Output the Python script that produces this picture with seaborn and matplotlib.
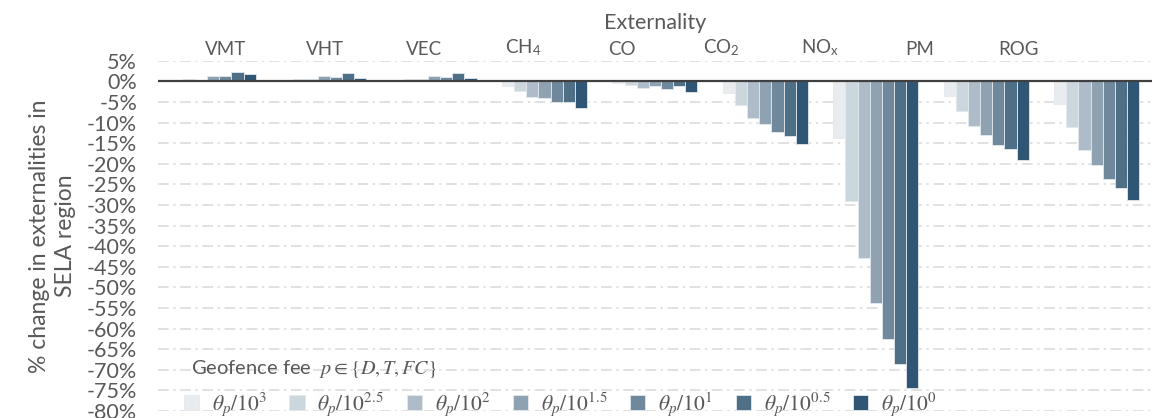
import numpy as np
import pandas as pd
import matplotlib
matplotlib.use("Agg")
import matplotlib.pyplot as plt
import seaborn as sns

# Externalities (x categories) and geofence fee levels (hue)
externalities = ["VMT", "VHT", "VEC", "CH$_\\mathregular{4}$", "CO", "CO$_\\mathregular{2}$",
                 "NO$_\\mathregular{x}$", "PM", "ROG"]
fee_levels = ["$\\theta_p/10^3$", "$\\theta_p/10^{2.5}$", "$\\theta_p/10^2$",
              "$\\theta_p/10^{1.5}$", "$\\theta_p/10^1$", "$\\theta_p/10^{0.5}$",
              "$\\theta_p/10^0$"]

# % change per fee level, one value per externality
fee_1e3 = [0.0, 0.0, 0.0, -1.2, -0.3, -2.8, -13.8, -3.5, -5.4]
fee_1e2_5 = [0.5, 0.65, 0.65, -2.35, -0.8, -5.75, -29.1, -7.1, -11.1]
fee_1e2 = [0.25, 0.5, 0.45, -3.7, -1.5, -8.8, -42.8, -10.8, -16.6]
fee_1e1_5 = [1.2, 1.4, 1.3, -4.05, -1.2, -10.4, -53.8, -13.1, -20.3]
fee_1e1 = [1.4, 1.15, 1.15, -5.1, -1.8, -12.4, -62.5, -15.5, -23.8]
fee_1e0_5 = [2.2, 2.0, 1.95, -5.0, -1.2, -13.2, -68.7, -16.5, -25.8]
fee_1e0 = [1.9, 0.9, 0.75, -6.5, -2.7, -15.3, -74.4, -19.0, -28.9]

series = [fee_1e3, fee_1e2_5, fee_1e2, fee_1e1_5, fee_1e1, fee_1e0_5, fee_1e0]
y_ticks = list(range(5, -81, -5))

palette = ["#E8ECEF", "#CCD6DD", "#ADBCC8", "#8EA2B2", "#6F889C", "#4F6F87", "#305675"]
text_grey = "#595959"

df = pd.DataFrame({
    "externality": np.tile(externalities, len(fee_levels)),
    "fee": np.repeat(fee_levels, len(externalities)),
    "change": np.concatenate(series),
})

sns.set_theme(style="white")
plt.rcParams["font.family"] = ["Lato", "DejaVu Sans"]
plt.rcParams["mathtext.fontset"] = "stix"

fig = plt.figure(figsize=(11.53, 4.18), dpi=100)
ax = fig.add_axes([0.137, 0.0167, 0.862, 0.838])

ax.set_axisbelow(True)
ax.yaxis.grid(True, color="#D9D9D9", linewidth=1.1, linestyle=(0, (7, 3, 1.5, 3)))

sns.barplot(data=df, x="externality", y="change", hue="fee",
            order=externalities, hue_order=fee_levels, palette=palette,
            width=0.77, gap=0, edgecolor="#E2E9EF", linewidth=0.6,
            saturation=1, ax=ax, legend=True)

ax.axhline(0, color="#404040", linewidth=1.6, zorder=3)
ax.set_ylim(-80, 5)
ax.set_xlim(-0.5, len(externalities) - 0.5)
ax.set_yticks(y_ticks)
ax.set_yticklabels([f"{t}%" for t in y_ticks])
ax.tick_params(axis="y", length=0, pad=15, labelsize=15.5, labelcolor=text_grey)
ax.set_xticks([])
ax.set_xlabel("")
ax.set_ylabel("% change in externalities in\nSELA region", fontsize=16.5,
              color=text_grey, linespacing=1.3)
ax.yaxis.set_label_coords(-0.082, 0.5)
for s in ax.spines.values():
    s.set_visible(False)

# Category labels along the top, on their own evenly spaced scale
shift, step = 0.115, 0.897
top = ax.secondary_xaxis("top", functions=(lambda x: (x - shift) / step,
                                           lambda s: s * step + shift))
top.set_xticks(range(len(externalities)))
top.set_xticklabels(externalities)
top.tick_params(length=0, pad=2, labelsize=13.5, labelcolor=text_grey)
top.spines["top"].set_visible(False)
top.set_xlabel("Externality", fontsize=15.5, color=text_grey, labelpad=6)

# Legend along the bottom with its caption above it
ax.text(0.033, 0.12, "Geofence fee  $p \\in \\{D, T, FC\\}$", transform=ax.transAxes,
        fontsize=14.5, color=text_grey, va="center", ha="left")
handles, labels = ax.get_legend_handles_labels()
ax.legend(handles, labels, ncol=7, loc="center left", bbox_to_anchor=(0.015, 0.02),
          frameon=False, fontsize=15.5, labelcolor=text_grey, handlelength=0.7,
          handleheight=0.7, handletextpad=0.6, columnspacing=1.05, borderpad=0)

fig.savefig("out.png", dpi=100)
